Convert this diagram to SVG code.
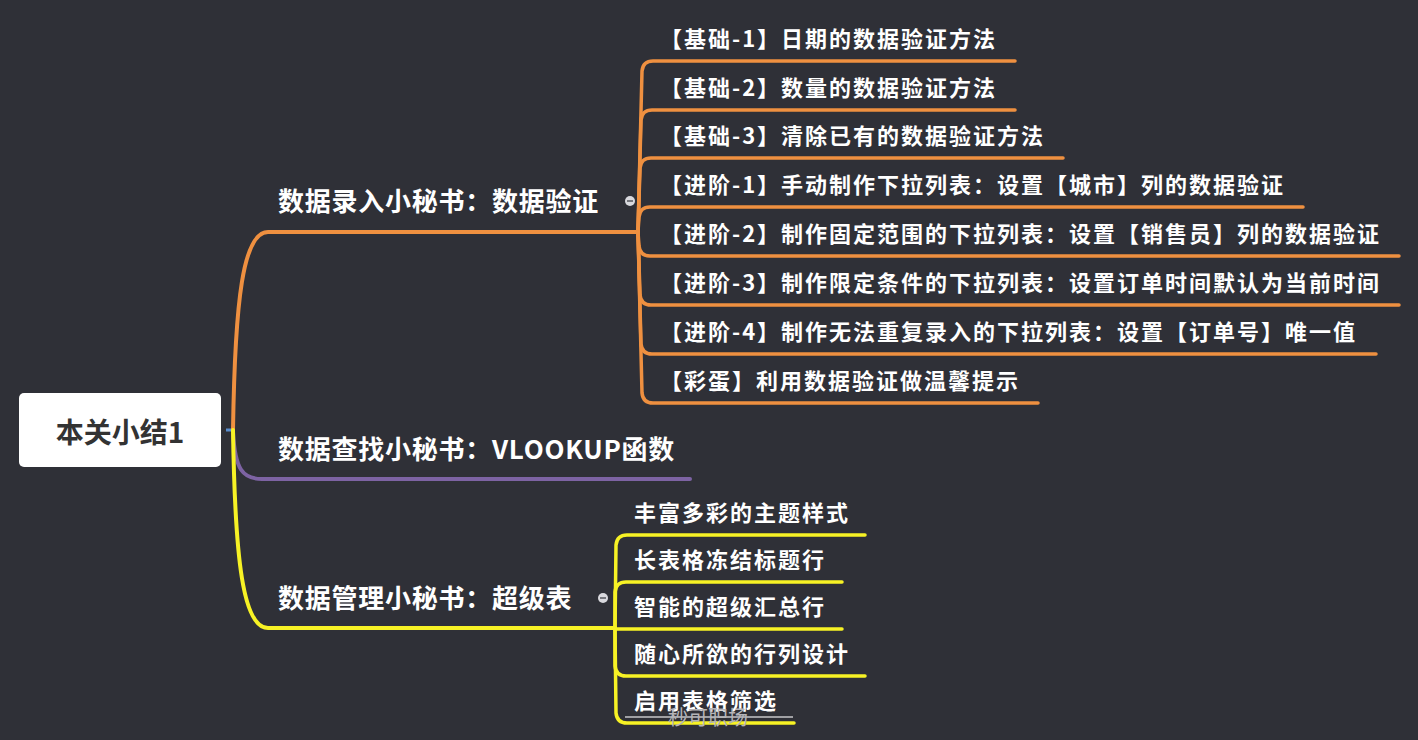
<svg xmlns="http://www.w3.org/2000/svg" width="1418" height="740" viewBox="0 0 1418 740">
<style>
.bg{fill:#2f3037}
.t{font-family:"Noto Sans CJK SC","Liberation Sans",sans-serif;font-weight:700;fill:#ffffff}
.br{font-size:26px;letter-spacing:0.75px}
.ch{font-size:22px;letter-spacing:2px}
.root{font-family:"Noto Sans CJK SC","Liberation Sans",sans-serif;font-weight:700;font-size:28px;fill:#333333}
.c{fill:none;stroke-linecap:round;stroke-linejoin:round}
.o{stroke:#ef9040}
.p{stroke:#7d63a3}
.y{stroke:#f7f225}
.w4{stroke-width:4}
.w3{stroke-width:3.5}
.dot{fill:#d9d9de}
.minus{stroke:#55565c;stroke-width:1.5}
</style>
<rect class="bg" x="0" y="0" width="1418" height="740"/>

<g id="connectors">
  <!-- root stub -->
  <line x1="226" y1="430" x2="234" y2="430" stroke="#5b8fd0" stroke-width="3"/>
  <!-- main branches -->
  <path class="c o w4" d="M233,430 C235,300 243,232 268,232 H638"/>
  <path class="c p w4" d="M233,432 C235,470 243,479 262,479 H690"/>
  <path class="c y w4" d="M233,430 C235,560 243,628 268,628 H615"/>
  <!-- orange children -->
  <path class="c o w3" d="M638,232 L642,71 Q643,61 653,61 H1015"/>
  <path class="c o w3" d="M638,232 L641,120 Q642,110 652,110 H1015"/>
  <path class="c o w3" d="M638,232 L640,168 Q641,158 651,158 H1063"/>
  <path class="c o w3" d="M638,232 L639,217 Q640,207 650,207 H1303"/>
  <path class="c o w3" d="M638,232 L639,246 Q640,256 650,256 H1399"/>
  <path class="c o w3" d="M638,232 L640,295 Q641,305 651,305 H1399"/>
  <path class="c o w3" d="M638,232 L641,344 Q642,354 652,354 H1376"/>
  <path class="c o w3" d="M638,232 L642,393 Q643,403 653,403 H1038"/>
  <!-- yellow children -->
  <path class="c y w3" d="M615,629 L616,545 Q617,535 627,535 H865"/>
  <path class="c y w3" d="M615,629 L615,592 Q616,582 626,582 H842"/>
  <path class="c y w3" d="M615,629 H842"/>
  <path class="c y w3" d="M615,629 L615,666 Q616,676 626,676 H865"/>
  <path class="c y w3" d="M615,629 L616,713 Q617,723 627,723 H794"/>
</g>

<g id="root">
  <rect x="19" y="393" width="202" height="74" rx="5" fill="#ffffff"/>
  <text class="root" x="120" y="443" text-anchor="middle">本关小结1</text>
</g>

<g id="b1">
  <text class="t br" x="278" y="211">数据录入小秘书：数据验证</text>
  <circle class="dot" cx="630" cy="201" r="5"/>
  <line class="minus" x1="627" y1="201" x2="633" y2="201"/>
</g>
<g id="b2">
  <text class="t br" x="278" y="459">数据查找小秘书：VLOOKUP函数</text>
</g>
<g id="b3">
  <text class="t br" x="278" y="608">数据管理小秘书：超级表</text>
  <circle class="dot" cx="603" cy="598" r="5"/>
  <line class="minus" x1="600" y1="598" x2="606" y2="598"/>
</g>

<g id="b1c1"><text class="t ch" x="660" y="47">【基础-1】日期的数据验证方法</text></g>
<g id="b1c2"><text class="t ch" x="660" y="96">【基础-2】数量的数据验证方法</text></g>
<g id="b1c3"><text class="t ch" x="660" y="144">【基础-3】清除已有的数据验证方法</text></g>
<g id="b1c4"><text class="t ch" x="660" y="193">【进阶-1】手动制作下拉列表：设置【城市】列的数据验证</text></g>
<g id="b1c5"><text class="t ch" x="660" y="242">【进阶-2】制作固定范围的下拉列表：设置【销售员】列的数据验证</text></g>
<g id="b1c6"><text class="t ch" x="660" y="291">【进阶-3】制作限定条件的下拉列表：设置订单时间默认为当前时间</text></g>
<g id="b1c7"><text class="t ch" x="660" y="340">【进阶-4】制作无法重复录入的下拉列表：设置【订单号】唯一值</text></g>
<g id="b1c8"><text class="t ch" x="660" y="389">【彩蛋】利用数据验证做温馨提示</text></g>

<g id="b3c1"><text class="t ch" x="634" y="521">丰富多彩的主题样式</text></g>
<g id="b3c2"><text class="t ch" x="634" y="568">长表格冻结标题行</text></g>
<g id="b3c3"><text class="t ch" x="634" y="615">智能的超级汇总行</text></g>
<g id="b3c4"><text class="t ch" x="634" y="662">随心所欲的行列设计</text></g>
<g id="b3c5"><text class="t ch" x="634" y="709">启用表格筛选</text></g>

<g id="watermark">
  <line x1="625" y1="717" x2="793" y2="717" stroke="#a0a0a4" stroke-width="2"/>
  <text x="708" y="725" text-anchor="middle" font-family="Noto Sans CJK SC, Liberation Sans, sans-serif" font-size="20" fill="#b4b4b8">秒可职场</text>
</g>
</svg>
